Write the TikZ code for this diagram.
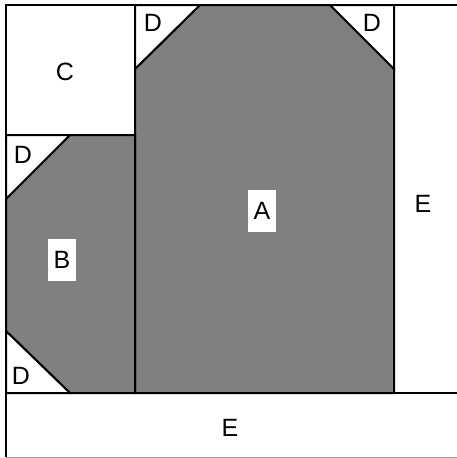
\documentclass[tikz,border=0pt]{standalone}
\usepackage{fontspec}
\setmainfont{Liberation Sans}
\begin{document}
\begin{tikzpicture}[x=1pt,y=-1pt,
  region/.style={draw=black,line width=2pt,line join=miter},
  shaded/.style={region,fill=black!50},
  blank/.style={region,fill=white},
  lbl/.style={font=\fontsize{25}{28}\selectfont,inner sep=0pt},
  boxlbl/.style={lbl,fill=white,minimum width=28pt,minimum height=42pt}]
\useasboundingbox (0,0) rectangle (456,458);
% E regions
\draw[blank] (394,5) -- (458,5) -- (458,393) -- (394,393) -- cycle;
\fill[white] (6,393) rectangle (458,457);
\draw[black,line width=2pt] (6,393) -- (458,393);
\draw[black,line width=2pt] (6,393) -- (6,457);
\draw[black!40,line width=1pt] (6,457) -- (458,457);
% C
\draw[blank] (6,5) rectangle (135,135);
% A
\draw[shaded] (200,5) -- (330,5) -- (394,69) -- (394,393) -- (135,393) -- (135,69) -- cycle;
\draw[blank] (135,5) -- (200,5) -- (135,69) -- cycle;
\draw[blank] (330,5) -- (394,5) -- (394,69) -- cycle;
% B
\draw[shaded] (70,135) -- (135,135) -- (135,393) -- (70,393) -- (6,331) -- (6,199) -- cycle;
\draw[blank] (6,135) -- (70,135) -- (6,199) -- cycle;
\draw[blank] (6,331) -- (70,393) -- (6,393) -- cycle;
% labels
\node[lbl] (c) at (65,72) {C};
\node[lbl] (d1) at (153,23) {D};
\node[lbl] (d2) at (372,23) {D};
\node[lbl] (d3) at (23,155) {D};
\node[lbl] (d4) at (21,376) {D};
\node[boxlbl] (a) at (262,211) {A};
\node[boxlbl] (b) at (62,260) {B};
\node[lbl] (e1) at (423,204) {E};
\node[lbl] (e2) at (230,428) {E};
\end{tikzpicture}
\end{document}
